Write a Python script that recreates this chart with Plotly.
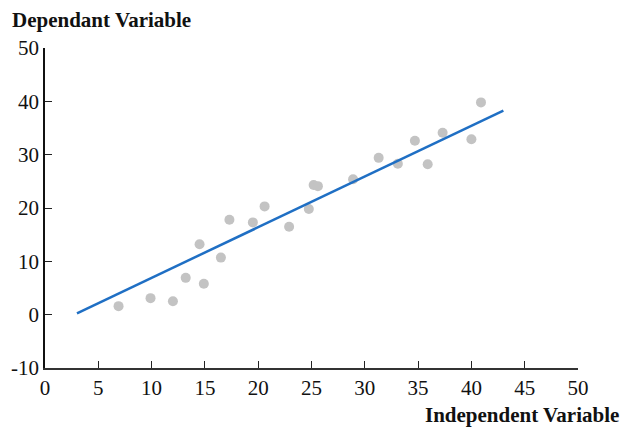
import plotly.graph_objects as go

# Observations
x_obs = [6.9, 9.9, 12.0, 13.2, 14.5, 14.9, 16.5, 17.3, 19.5, 20.6, 22.9, 24.75,
         25.2, 25.6, 28.9, 31.3, 33.1, 34.7, 35.9, 37.3, 40.0, 40.9]
y_obs = [1.6, 3.1, 2.5, 6.9, 13.2, 5.8, 10.7, 17.8, 17.3, 20.3, 16.5, 19.8,
         24.3, 24.1, 25.4, 29.4, 28.3, 32.6, 28.2, 34.1, 32.9, 39.8]

# Fitted line endpoints
x_fit = [3.0, 43.0]
y_fit = [0.25, 38.25]

x_ticks = [0, 5, 10, 15, 20, 25, 30, 35, 40, 45, 50]
y_ticks = [-10, 0, 10, 20, 30, 40, 50]
y_tick_text = ["-10", "0", "10", "20", "30", "40", "50"]

W, H = 622, 429
L, R, T, B = 45, 44, 48, 61
PW, PH = W - L - R, H - T - B

fig = go.Figure()
fig.add_trace(go.Scatter(x=x_obs, y=y_obs, mode="markers",
                         marker=dict(size=10, color="#c3c3c3"),
                         showlegend=False, hoverinfo="skip"))
fig.add_trace(go.Scatter(x=x_fit, y=y_fit, mode="lines",
                         line=dict(color="#1f6fc4", width=2.5),
                         showlegend=False, hoverinfo="skip"))

font = dict(family="Liberation Serif", size=21, color="#111111")

fig.update_layout(
    width=W, height=H,
    margin=dict(l=L, r=R, t=T, b=B),
    paper_bgcolor="white", plot_bgcolor="white",
    font=font,
    xaxis=dict(range=[0, 50], tickvals=x_ticks, showgrid=False, zeroline=False,
               showline=True, linecolor="#333333", linewidth=2,
               ticks="inside", ticklen=7, tickcolor="#222222", tickwidth=1.2,
               tickfont=font),
    yaxis=dict(range=[-10, 50], tickvals=y_ticks, ticktext=y_tick_text,
               showgrid=False, zeroline=False,
               showline=True, linecolor="#111111", linewidth=1.5,
               ticks="inside", ticklen=7, tickcolor="#222222", tickwidth=1.2,
               tickfont=font),
    annotations=[
        dict(text="<b>Dependant Variable</b>", xref="paper", yref="paper",
             x=-(L - 10) / PW, y=1 + (T - 20) / PH,
             xanchor="left", yanchor="middle", showarrow=False, font=font),
        dict(text="<b>Independent Variable</b>", xref="paper", yref="paper",
             x=1 + (621 - (W - R)) / PW, y=-(429 - (H - B)) / PH,
             xanchor="right", yanchor="bottom", showarrow=False, font=font),
    ],
)

fig.write_html("out.html")
